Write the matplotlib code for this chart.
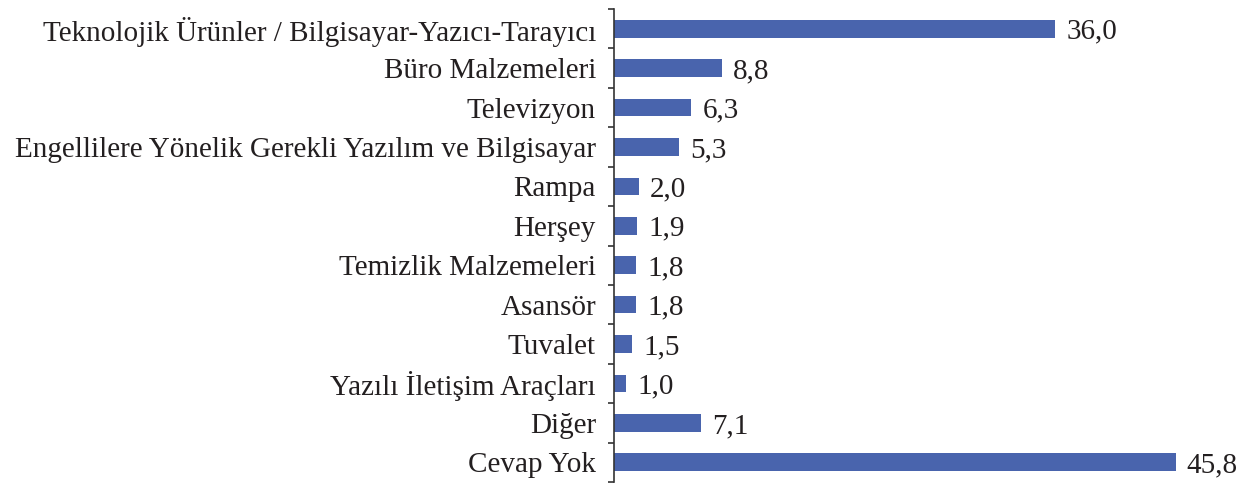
import matplotlib
matplotlib.use("Agg")
import matplotlib.pyplot as plt
from matplotlib.ticker import FixedLocator, NullFormatter

# categories top to bottom, shares in percent
categories = [
    "Teknolojik Ürünler / Bilgisayar-Yazıcı-Tarayıcı",
    "Büro Malzemeleri",
    "Televizyon",
    "Engellilere Yönelik Gerekli Yazılım ve Bilgisayar",
    "Rampa",
    "Herşey",
    "Temizlik Malzemeleri",
    "Asansör",
    "Tuvalet",
    "Yazılı İletişim Araçları",
    "Diğer",
    "Cevap Yok",
]
values = [36.0, 8.8, 6.3, 5.3, 2.0, 1.9, 1.8, 1.8, 1.5, 1.0, 7.1, 45.8]

bar_color = "#4964ad"
text_color = "#231f20"
fsize = 21

plt.rcParams["font.family"] = ["Liberation Serif", "DejaVu Serif"]

fig = plt.figure(figsize=(12.54, 4.83), dpi=100)
ax = fig.add_axes([614 / 1254, 1 - 482 / 483, (1227 - 614) / 1254, (482 - 9) / 483])

pos = list(range(len(categories)))
ax.barh(pos, values, height=0.45, color=bar_color)

for y, v in zip(pos, values):
    ax.annotate(f"{v:.1f}".replace(".", ","), xy=(v, y), xytext=(8, 0),
                textcoords="offset points", va="center_baseline", ha="left",
                fontsize=fsize, color=text_color)

ax.set_xlim(0, 50)
ax.set_ylim(len(categories) - 0.5, -0.5)

ax.set_yticks(pos)
ax.set_yticklabels(categories, fontsize=fsize, color=text_color, va="center_baseline")
ax.tick_params(axis="y", which="major", length=0, pad=13)
ax.yaxis.set_minor_locator(FixedLocator([i - 0.5 for i in range(len(categories) + 1)]))
ax.yaxis.set_minor_formatter(NullFormatter())
ax.tick_params(axis="y", which="minor", length=4, width=1.2, color="#333333", direction="out")

ax.set_xticks([])
for side in ("top", "right", "bottom"):
    ax.spines[side].set_visible(False)
ax.spines["left"].set_color("#333333")
ax.spines["left"].set_linewidth(1.2)

fig.savefig("out.png", dpi=100)
